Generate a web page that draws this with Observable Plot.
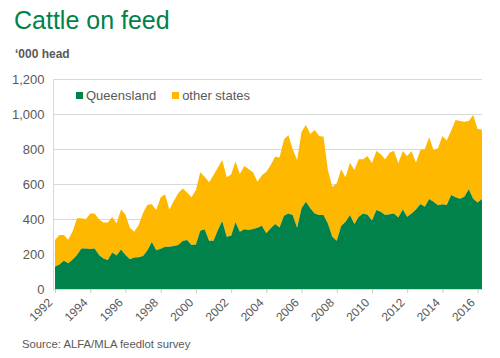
<!DOCTYPE html>
<html>
<head>
<meta charset="utf-8">
<script src="https://cdn.jsdelivr.net/npm/d3@7"></script>
<script src="https://cdn.jsdelivr.net/npm/@observablehq/plot@0.6"></script>
<style>
  html, body { margin: 0; padding: 0; background: #fff; }
  #wrap { position: relative; width: 500px; height: 358px; font-family: "Liberation Sans", Arial, sans-serif; overflow: hidden; }
  #title { position: absolute; left: 14px; top: 6px; font-size: 25px; color: #00824A; white-space: nowrap; }
  #sub { position: absolute; left: 15px; top: 47px; font-size: 12px; font-weight: bold; color: #595959; white-space: nowrap; }
  #chart { position: absolute; left: 0; top: 64px; }
  #legend { position: absolute; left: 76px; top: 88px; font-size: 13px; color: #595959; white-space: nowrap; display: flex; align-items: center; }
  #legend .sw { display: inline-block; width: 7px; height: 7px; margin-right: 3px; }
  #legend .item { display: inline-flex; align-items: center; margin-right: 16px; }
  #source { position: absolute; left: 22px; top: 338px; font-size: 11.3px; color: #595959; white-space: nowrap; }
</style>
</head>
<body>
<div id="wrap">
  <div id="title">Cattle on feed</div>
  <div id="sub">‘000 head</div>
  <div id="chart"></div>
  <div id="legend"></div>
  <div id="source">Source: ALFA/MLA feedlot survey</div>
</div>
<script>
// Quarterly series starting 1992 Q1 ('000 head)
const startYear = 1992;
const seriesNames = ["Queensland", "other states"];
const seriesColors = ["#00824A", "#FFB800"];
const queensland = [
  128,140,162,147,168,194,232,232,229,232,194,175,166,208,192,226,194,170,180,182,
  188,222,268,222,230,242,242,246,251,274,280,251,255,333,341,276,276,337,389,299,
  305,381,327,341,337,343,350,361,318,347,371,352,419,432,423,350,461,499,461,432,
  423,423,375,299,276,360,385,423,371,413,432,425,391,451,442,423,427,432,408,455,
  413,432,455,486,470,514,499,478,484,480,537,524,516,527,570,516,495,514
];
const allStates = [
  280,308,308,282,330,404,405,398,432,432,398,380,380,412,376,455,426,350,327,366,
  436,482,484,452,525,541,455,504,547,575,552,524,566,667,642,610,651,695,737,638,
  655,728,657,703,684,667,613,650,670,709,756,752,855,880,798,737,899,937,886,909,
  874,870,680,585,604,684,638,722,680,741,741,760,718,789,770,741,779,790,718,789,
  760,789,722,794,798,867,794,804,874,848,905,966,960,956,960,994,914,912
];
const yTicks = [0, 200, 400, 600, 800, 1000, 1200];
const xTickYears = [1992,1994,1996,1998,2000,2002,2004,2006,2008,2010,2012,2014,2016];

const rows = queensland.map((q, i) => ({
  date: new Date(Date.UTC(startYear, 3 * i, 1)),
  qld: q,
  total: allStates[i]
}));
const xTickDates = xTickYears.map(y => new Date(Date.UTC(y, 0, 1)));
const xStart = new Date(Date.UTC(1991, 10, 20));

const chart = Plot.plot({
  width: 500,
  height: 270,
  marginTop: 15,
  marginLeft: 53,
  marginRight: 18,
  marginBottom: 45,
  style: { fontFamily: "Liberation Sans, Arial, sans-serif", background: "white" },
  x: { type: "utc", domain: [xStart, rows[rows.length - 1].date] },
  y: { domain: [0, 1200] },
  marks: [
    Plot.gridY(yTicks, { stroke: "#d9d9d9", strokeOpacity: 1 }),
    Plot.areaY(rows, { x: "date", y1: "qld", y2: "total", fill: seriesColors[1], curve: "linear" }),
    Plot.areaY(rows, { x: "date", y: "qld", fill: seriesColors[0], curve: "linear" }),
    Plot.ruleY([0], { stroke: "#d9d9d9" }),
    Plot.ruleX([xStart], { stroke: "#d9d9d9" }),
    Plot.axisY(yTicks, {
      tickSize: 0, tickPadding: 9, tickFormat: d3.format(","),
      fontSize: 13, fill: "#595959", label: null
    }),
    Plot.axisX(xTickDates, {
      tickSize: 4, tickFormat: () => "", stroke: "#c8c8c8", label: null
    }),
    Plot.axisX(xTickDates, {
      tickSize: 0, tickPadding: 7, tickRotate: -45, dx: -5, dy: 4,
      tickFormat: d3.utcFormat("%Y"),
      fontSize: 12, fill: "#595959", label: null
    })
  ]
});
document.getElementById("chart").appendChild(chart);

const legend = document.getElementById("legend");
seriesNames.forEach((name, i) => {
  const item = document.createElement("span");
  item.className = "item";
  const sw = document.createElement("span");
  sw.className = "sw";
  sw.style.background = seriesColors[i];
  item.appendChild(sw);
  item.appendChild(document.createTextNode(name));
  legend.appendChild(item);
});
</script>
</body>
</html>
